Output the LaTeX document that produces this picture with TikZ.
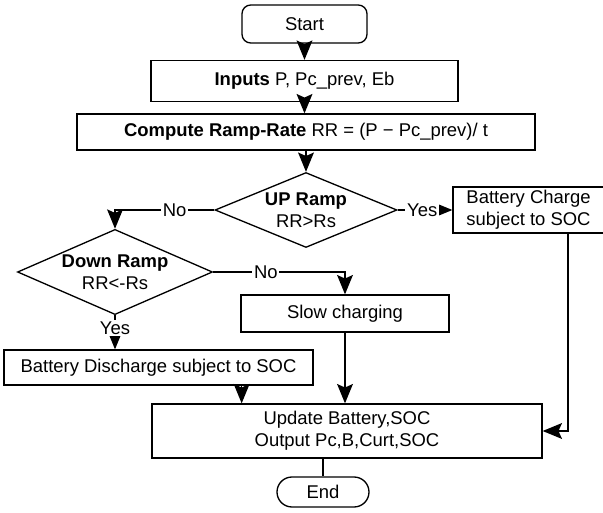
\documentclass[tikz,border=0pt]{standalone}
\usepackage{fontspec}
\setmainfont{Liberation Sans}
\usetikzlibrary{shapes.geometric,arrows.meta,positioning,calc}

\begin{document}
\begin{tikzpicture}[
  font=\fontsize{10.5}{12.5}\selectfont,
  box/.style={rectangle, draw, line width=0.75pt, align=center, inner sep=2pt},
  term/.style={box, rounded corners=5pt},
  decision/.style={diamond, draw, line width=0.75pt, align=center, inner sep=-8pt},
  lbl/.style={fill=white, inner sep=1pt},
  flow/.style={draw, line width=0.75pt, -{Stealth[length=11pt, width=9pt, inset=2pt]}},
]
  \useasboundingbox (0, 0) rectangle (12.06, 10.24);

  % ===== Main column =====
  \node[term, minimum width=2.5cm, minimum height=0.76cm] (start) at (6.09, 9.76) {Start};
  \node[box, minimum width=6.14cm, minimum height=0.82cm] (inputs) at (6.09, 8.62)
       {\textbf{Inputs} P, Pc\_prev, Eb};
  \node[box, minimum width=9.16cm, minimum height=0.72cm] (rate) at (6.12, 7.60)
       {\textbf{Compute Ramp-Rate} RR = (P − Pc\_prev)/ t};
  \draw[flow] (start.south) -- (inputs.north);
  \draw[flow] (inputs.south) -- (inputs.south |- rate.north);

  % ===== Decisions =====
  \node[decision, minimum width=3.64cm, minimum height=1.5cm] (up) at (6.12, 6.04)
       {\textbf{UP Ramp}\\ RR>Rs};
  \node[box, align=left, minimum width=3.02cm, minimum height=0.84cm] (charge) at (10.57, 6.04)
       {Battery Charge\\ subject to SOC};
  \node[decision, minimum width=3.9cm, minimum height=1.64cm] (down) at (2.30, 4.80)
       {\textbf{Down Ramp}\\ RR<-Rs};
  \draw[flow] (up.north |- rate.south) -- (up.north);
  \draw[flow] (up.east) -- (charge.west) node[pos=0.45, lbl] {Yes};
  \draw[flow] (up.west) -| (down.north) node[pos=0.2, lbl] {No};

  % ===== Actions =====
  \node[box, minimum width=4.16cm, minimum height=0.74cm] (slow) at (6.90, 3.97) {Slow charging};
  \node[box, minimum width=6.18cm, minimum height=0.70cm] (discharge) at (3.17, 2.89)
       {Battery Discharge subject to SOC};
  \draw[flow] (down.east) -| (slow.north) node[pos=0.2, lbl] {No};
  \draw[flow] (down.south) -- (down.south |- discharge.north) node[pos=0.38, lbl] {Yes};

  % ===== Update and end =====
  \node[box, minimum width=7.8cm, minimum height=1.08cm] (update) at (6.94, 1.62)
       {Update Battery,SOC\\ Output Pc,B,Curt,SOC};
  \node[box, rounded corners=0.3cm, minimum width=1.84cm, minimum height=0.6cm] (stop) at (6.46, 0.40) {End};
  \draw[flow] ([xshift=-1.44cm]discharge.south east) -- ([xshift=-1.44cm]discharge.south east |- update.north);
  \draw[flow] (slow.south) -- (slow.south |- update.north);
  \draw[flow] ([xshift=0.79cm]charge.south) |- (update.east);
  \draw[line width=0.75pt] (stop.north |- update.south) -- (stop.north);

\end{tikzpicture}
\end{document}
